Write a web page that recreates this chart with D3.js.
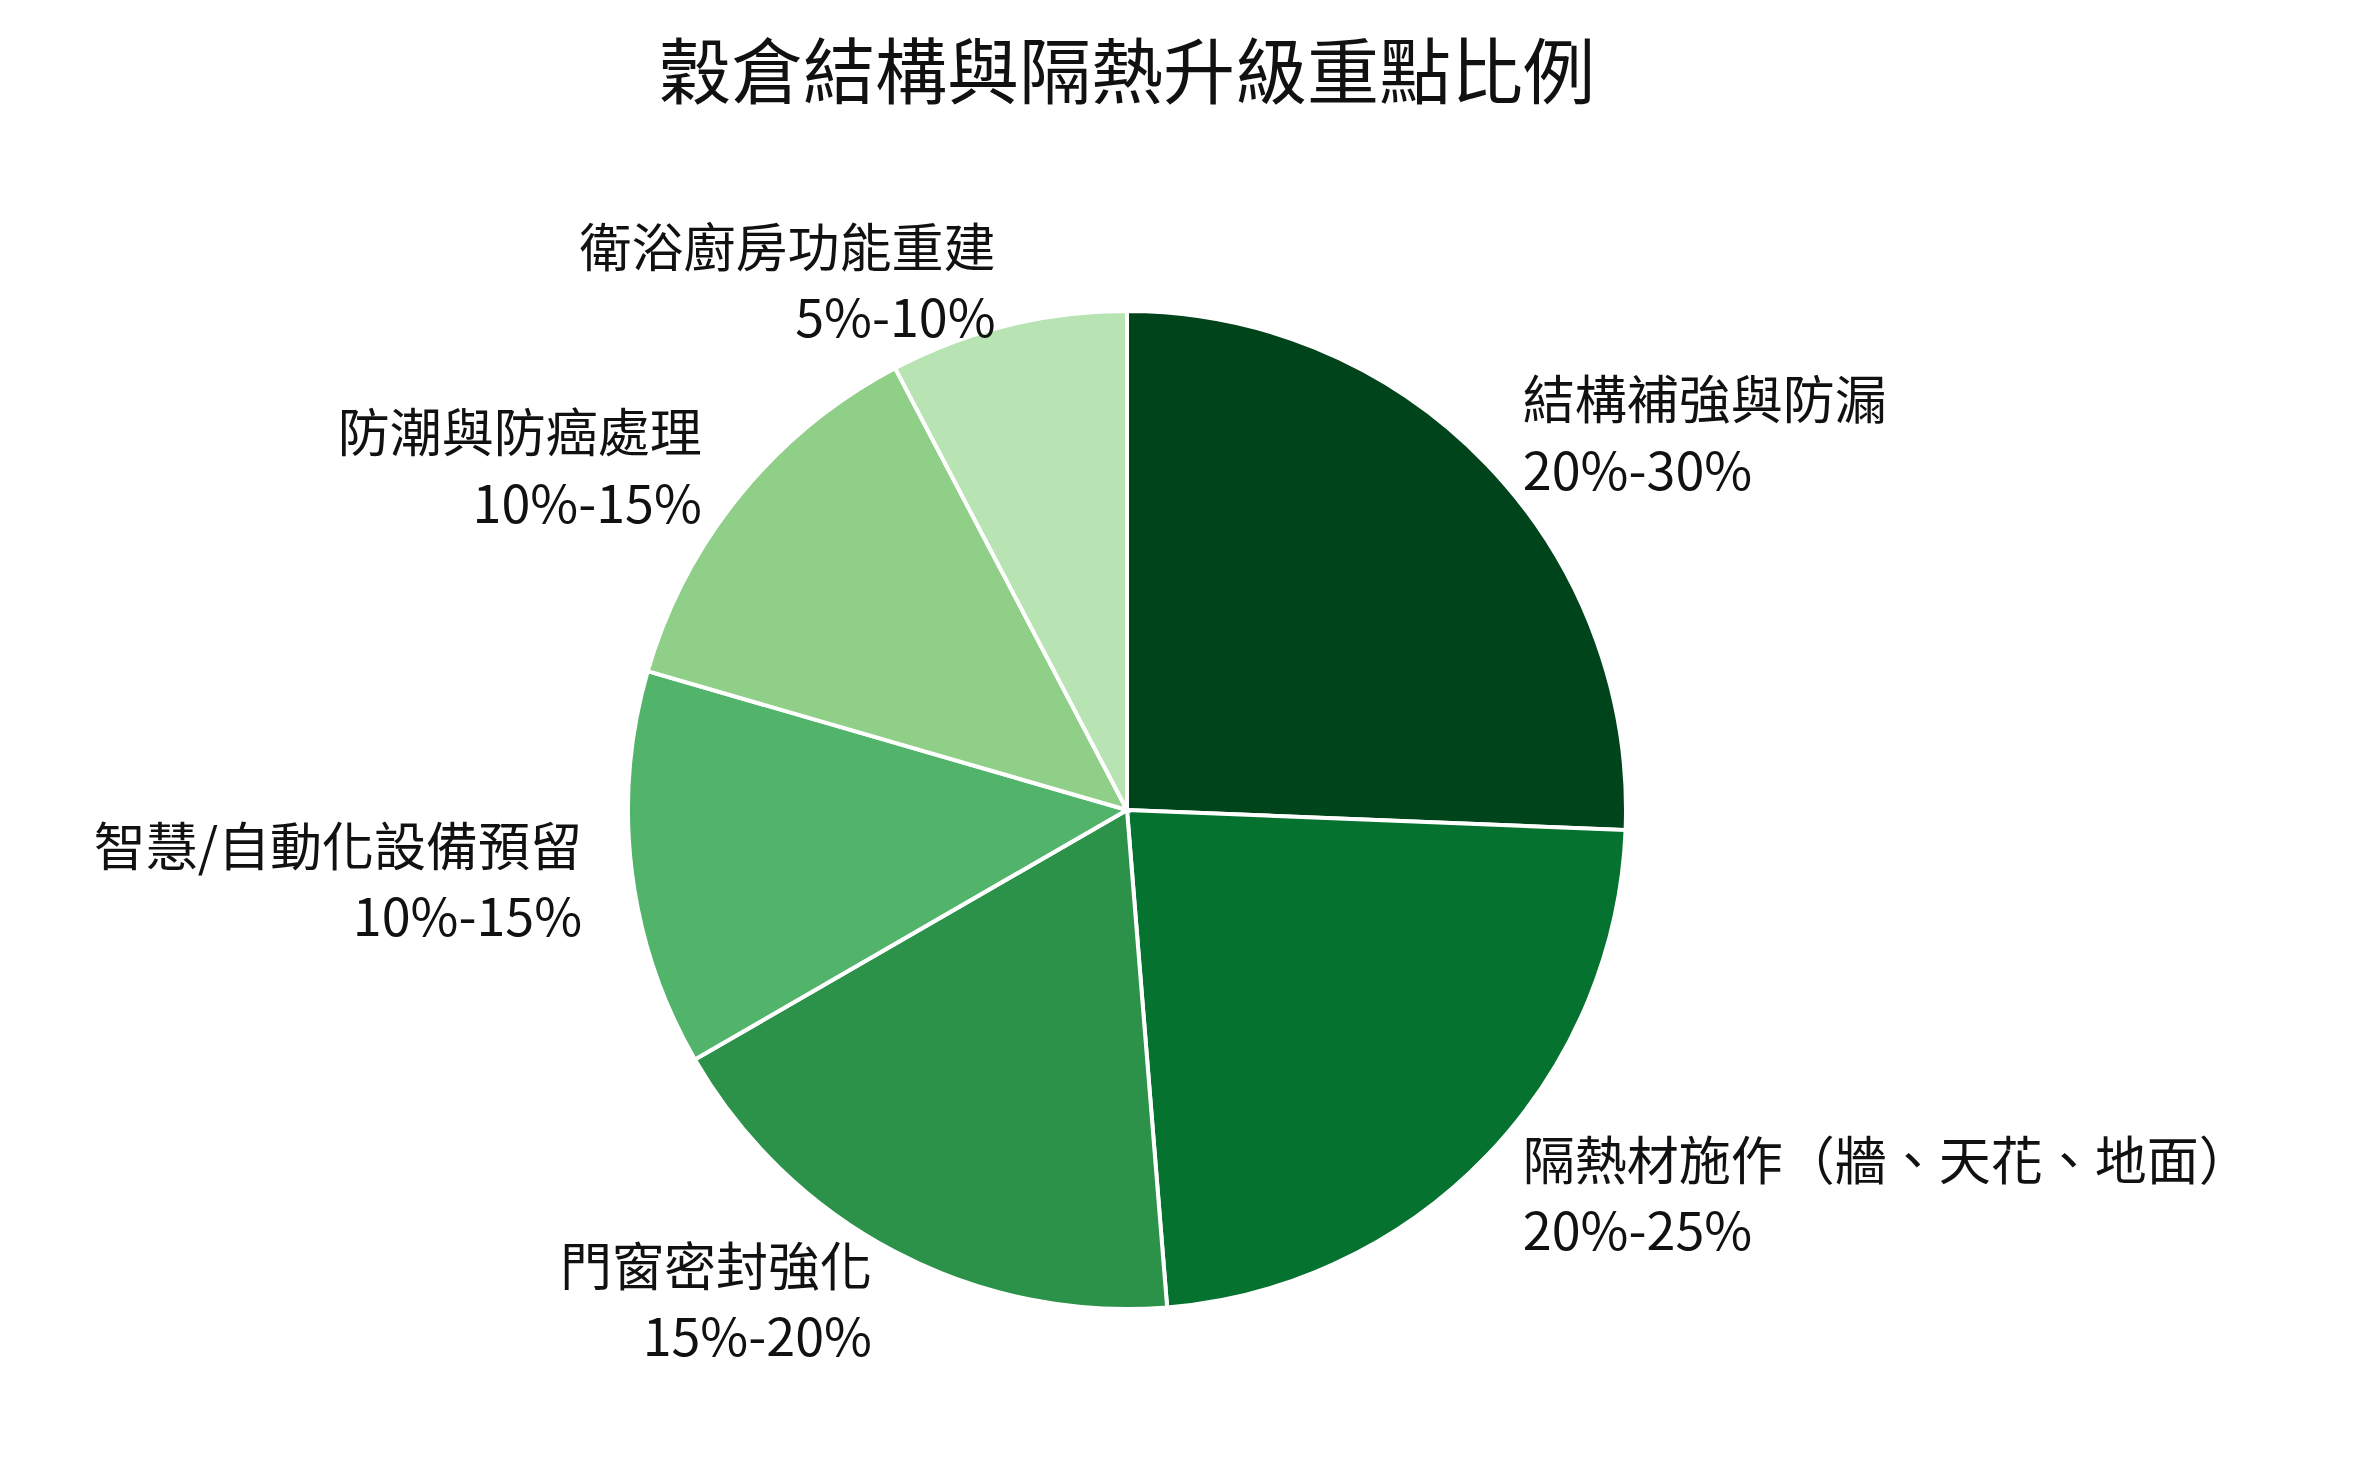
<!DOCTYPE html>
<html><head><meta charset="utf-8">
<script src="https://cdn.jsdelivr.net/npm/d3@7"></script>
<style>body{margin:0;background:#fff}text{font-family:"Noto Sans CJK TC","Noto Sans",sans-serif;fill:#111}</style>
</head><body><svg id="chart" width="2373" height="1468"></svg>
<script>
const categories = ["結構補強與防漏","隔熱材施作（牆、天花、地面）","門窗密封強化","智慧/自動化設備預留","防潮與防癌處理","衛浴廚房功能重建"]
const rangeLabels = ["20%-30%","20%-25%","15%-20%","10%-15%","10%-15%","5%-10%"]
const values = [25, 22.5, 17.5, 12.5, 12.5, 7.5]
const colors = ["#00441b","#067230","#2c9249","#52b36a","#8fcf87","#b8e3b3"]

const svg = d3.select("#chart")
const cx = 1127, cy = 810, R = 499

svg.append("text").attr("x", cx).attr("y", 98).attr("text-anchor","middle")
  .style("font-size","72px").text("穀倉結構與隔熱升級重點比例")

const pie = d3.pie().sort(null).value(d => d)
const arcs = pie(values)
const arc = d3.arc().innerRadius(0).outerRadius(R)
const labelArc = d3.arc().innerRadius(R*1.1).outerRadius(R*1.1)

const g = svg.append("g").attr("transform", `translate(${cx},${cy})`)
g.selectAll("path").data(arcs).join("path")
  .attr("d", arc).attr("fill", (d,i) => colors[i])
  .attr("stroke","#fff").attr("stroke-width",4)

const lab = g.selectAll("text.lab").data(arcs).join("text").attr("class","lab")
  .attr("transform", d => { const [x,y] = labelArc.centroid(d); return `translate(${x},${y})` })
  .attr("text-anchor", d => (d.startAngle+d.endAngle)/2 < Math.PI ? "start" : "end")
  .style("font-size","52px")
lab.append("tspan").attr("x",0).attr("dy","-0.2em").text((d,i) => categories[i])
lab.append("tspan").attr("x",0).attr("dy","1.35em").text((d,i) => rangeLabels[i])
</script></body></html>
